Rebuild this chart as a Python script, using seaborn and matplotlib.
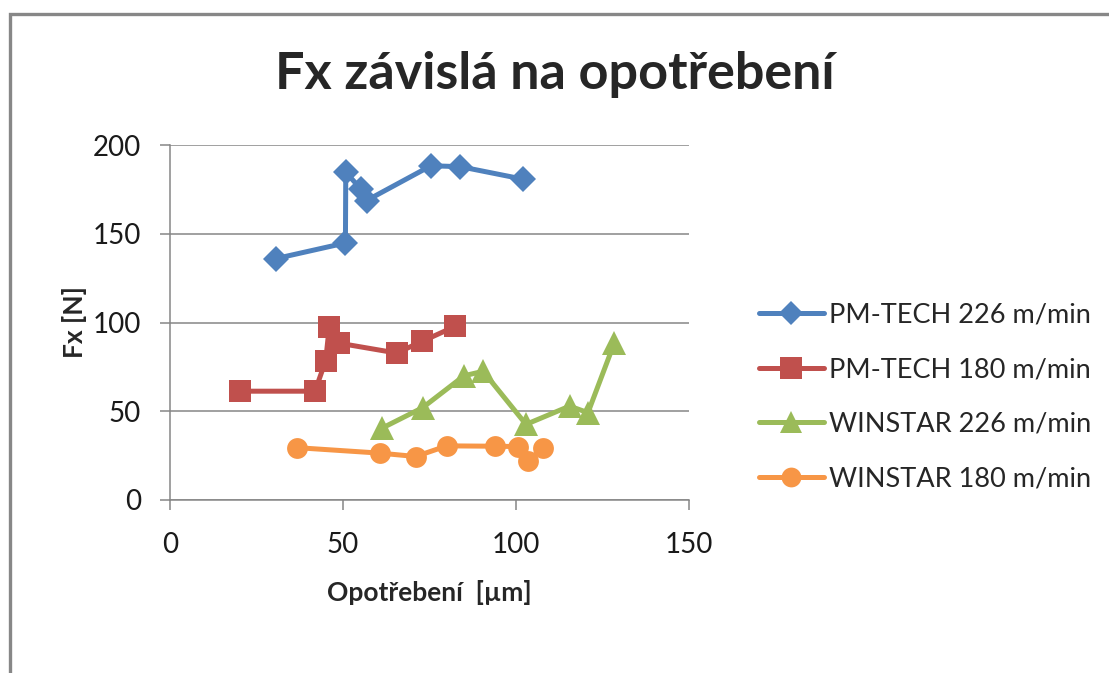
import matplotlib
matplotlib.use("Agg")
import matplotlib.pyplot as plt
import seaborn as sns
from matplotlib.patches import Rectangle

# ── Data ────────────────────────────────────────────────────────────────────
PM226_X = [30.6, 50.7, 50.8, 55.2, 56.8, 75.4, 83.9, 101.9]
PM226_Y = [136.0, 144.8, 184.6, 175.2, 168.7, 188.3, 187.8, 180.8]

PM180_X = [20.3, 41.9, 45.0, 46.0, 48.7, 65.5, 72.8, 82.4]
PM180_Y = [61.3, 61.3, 78.5, 97.2, 88.4, 82.8, 89.3, 97.8]

WS226_X = [61.2, 73.0, 85.0, 90.5, 102.9, 115.5, 120.8, 128.4]
WS226_Y = [40.4, 52.0, 70.0, 72.5, 42.6, 52.9, 49.2, 88.4]

WS180_X = [36.6, 60.7, 71.0, 80.0, 93.8, 100.6, 103.6, 107.8]
WS180_Y = [29.5, 26.4, 24.5, 30.5, 30.3, 30.1, 22.0, 29.5]

SERIES = ["PM-TECH 226 m/min", "PM-TECH 180 m/min",
          "WINSTAR 226 m/min", "WINSTAR 180 m/min"]
COLORS = ["#4F81BD", "#C0504D", "#9BBB59", "#F79646"]
MARKERS = ["D", "s", "^", "o"]
MSIZES = [13, 16, 17, 15]

X_TICKS = [0, 50, 100, 150]
Y_TICKS = [0, 50, 100, 150, 200]

TITLE = "Fx závislá na opotřebení"
XLABEL = "Opotřebení  [µm]"
YLABEL = "Fx [N]"

# ── Figure ───────────────────────────────────────────────────────────────────
sns.set_theme(style="white")
plt.rcParams["font.family"] = ["Lato", "DejaVu Sans"]

W, H = 1109, 673
fig = plt.figure(figsize=(W / 100, H / 100), dpi=100)
ax = fig.add_axes([170 / W, 1 - 500 / H, (689 - 170) / W, (500 - 145) / H])

# chart-area frame (only left/top edges visible in the crop)
fig.patches.append(Rectangle((10 / W, -0.2), 1.2, 1 - 14 / H + 0.2,
                             transform=fig.transFigure, fill=False,
                             edgecolor="#878787", lw=2.4, zorder=0))

data = [(PM226_X, PM226_Y), (PM180_X, PM180_Y),
        (WS226_X, WS226_Y), (WS180_X, WS180_Y)]

for (xs, ys), name, color, mk, ms in zip(data, SERIES, COLORS, MARKERS, MSIZES):
    sns.lineplot(x=xs, y=ys, ax=ax, sort=False, estimator=None,
                 color=color, lw=3.6, marker=mk, markersize=ms,
                 markeredgewidth=0, label=name, zorder=3)

ax.set_xlim(0, 150)
ax.set_ylim(0, 200)
ax.set_xticks(X_TICKS)
ax.set_yticks(Y_TICKS)
ax.yaxis.grid(True, color="#868686", lw=1.1)
ax.xaxis.grid(False)
for side in ["top", "right"]:
    ax.spines[side].set_visible(False)
for side in ["left", "bottom"]:
    ax.spines[side].set_color("#868686")
    ax.spines[side].set_linewidth(1.1)
ax.tick_params(axis="both", direction="out", length=7, width=1.1,
               color="#868686", labelsize=20, labelcolor="#1a1a1a")
ax.tick_params(axis="x", bottom=True, pad=16)
ax.tick_params(axis="y", left=True, pad=14)

ax.set_xlabel(XLABEL, fontsize=19, fontweight="bold", labelpad=16)
ax.set_ylabel(YLABEL, fontsize=19, fontweight="bold", labelpad=4)

fig.text(555 / W, 1 - 74 / H, TITLE, fontsize=37.5, fontweight="bold",
         ha="center", va="center")

leg = ax.legend(loc="center left", bbox_to_anchor=(748 / W, 1 - 397 / H),
                bbox_transform=fig.transFigure, frameon=False, fontsize=19.5,
                handlelength=2.4, handletextpad=0.2, labelspacing=1.1,
                borderaxespad=0)
for h in leg.legend_handles:
    h.set_markersize(h.get_markersize() * 0.95)

fig.savefig("out.png", dpi=100, facecolor="white")
